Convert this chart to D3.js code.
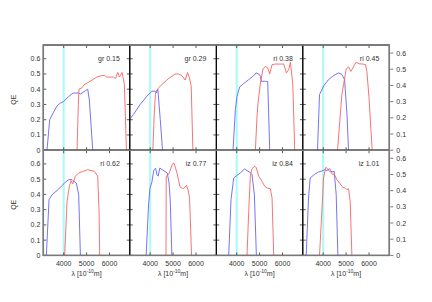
<!DOCTYPE html>
<html>
<head>
<meta charset="utf-8">
<script src="https://cdn.jsdelivr.net/npm/d3@7"></script>
<style>
body { margin: 0; background: #fff; }
text { font-family: "Liberation Sans", Arial, sans-serif; font-size: 7px; fill: #333; }
</style>
</head>
<body>
<div class="main"></div>
<script>
//panel labels, left to right, top to bottom
var panelLabels = ["gr 0.15", "gr 0.29", "ri 0.38", "ri 0.45", "ri 0.62", "iz 0.77", "iz 0.84", "iz 1.01"];
var xTicks = [4000, 5000, 6000];
var yTicks = [0, 0.1, 0.2, 0.3, 0.4, 0.5, 0.6];
var markerWavelength = 4000;

//[wavelength (1e-10 m), QE]
var blueCurves = [
	[[3272,0],[3389,0.20],[3560,0.25],[3709,0.29],[3854,0.31],[4000,0.32],[4200,0.35],[4408,0.375],[4655,0.375],[4728,0.368],[4946,0.39],[5048,0.40],[5120,0.33],[5267,0]],
	[[3100,0.2],[3126,0.206],[3272,0.235],[3563,0.30],[3854,0.354],[4073,0.387],[4218,0.387],[4262,0.376],[4335,0.398],[4440,0.2],[4539,0]],
	[[3840,0],[3942,0.267],[4015,0.354],[4131,0.415],[4306,0.437],[4524,0.463],[4743,0.489],[4844,0.507],[4961,0.50],[5034,0.485],[5077,0.452],[5252,0.452],[5354,0.45],[5441,0]],
	[[3752,0],[3840,0.365],[4015,0.42],[4233,0.463],[4451,0.489],[4670,0.507],[4815,0.496],[4932,0.463],[5034,0.246],[5107,0]],
	[[3243,0],[3360,0.365],[3490,0.398],[3782,0.435],[4073,0.481],[4218,0.497],[4364,0.497],[4408,0.49],[4553,0.475],[4655,0.398],[4728,0]],
	[[3825,0],[3927,0.33],[3990,0.44],[4073,0.48],[4158,0.56],[4233,0.572],[4300,0.53],[4349,0.52],[4420,0.573],[4525,0.562],[4650,0.55],[4743,0.54],[4820,0.48],[4874,0.365],[4946,0]],
	[[3651,0],[3752,0.365],[3869,0.508],[4015,0.525],[4160,0.541],[4349,0.567],[4451,0.556],[4568,0.547],[4670,0.53],[4772,0.398],[4859,0]],
	[[3258,0],[3360,0.376],[3432,0.508],[3607,0.53],[3796,0.547],[3985,0.556],[4087,0.563],[4160,0.556],[4276,0.569],[4378,0.547],[4480,0.552],[4568,0.398],[4641,0]]
];
var redCurves = [
	[[4582,0],[4640,0.3],[4670,0.40],[4800,0.41],[4900,0.43],[5020,0.44],[5237,0.46],[5450,0.48],[5674,0.49],[5790,0.49],[5864,0.48],[6184,0.48],[6257,0.47],[6359,0.51],[6432,0.48],[6548,0.51],[6650,0.43],[6737,0]],
	[[4116,0],[4180,0.25],[4233,0.38],[4364,0.41],[4582,0.44],[4800,0.47],[5092,0.50],[5237,0.50],[5383,0.49],[5529,0.46],[5631,0.51],[5703,0.48],[5790,0.42],[5864,0]],
	[[4815,0],[4888,0.224],[4932,0.31],[5034,0.44],[5150,0.533],[5252,0.55],[5354,0.539],[5441,0.50],[5543,0.561],[5689,0.565],[5907,0.565],[6053,0.565],[6169,0.507],[6271,0.528],[6344,0.578],[6446,0.441],[6533,0]],
	[[4626,0],[4742,0.224],[4815,0.365],[4888,0.43],[5005,0.533],[5107,0.546],[5208,0.517],[5296,0.539],[5427,0.576],[5587,0.567],[5733,0.565],[5849,0.561],[5907,0.517],[5995,0.354],[6082,0.137],[6140,0]],
	[[4044,0],[4146,0.354],[4247,0.453],[4320,0.49],[4393,0.468],[4510,0.519],[4655,0.541],[4874,0.552],[5048,0.563],[5194,0.556],[5340,0.552],[5485,0.519],[5543,0.288],[5572,0]],
	[[4690,0],[4700,0.519],[4801,0.53],[4975,0.6],[5040,0.606],[5170,0.54],[5300,0.45],[5400,0.44],[5470,0.44],[5580,0.46],[5650,0.43],[5718,0.38],[5805,0]],
	[[4451,0],[4524,0.288],[4597,0.519],[4670,0.569],[4786,0.585],[4859,0.574],[4961,0.519],[5107,0.486],[5223,0.453],[5325,0.442],[5470,0.437],[5543,0.376],[5616,0]],
	[[3840,0],[3942,0.288],[4015,0.508],[4116,0.578],[4189,0.569],[4262,0.552],[4335,0.547],[4408,0.53],[4480,0.534],[4597,0.497],[4743,0.468],[4859,0.446],[4961,0.442],[5034,0.431],[5107,0.437],[5179,0.354],[5252,0]]
];

//Canvas config
var margin = {top: 45, left: 43.3};
var panelW = 86.5, panelH = 105.2;
var nCols = 4, nRows = 2;
var tickLen = 3;

var xScale = d3.scaleLinear().domain([3110, 6885]).range([0, panelW]);
var yScale = d3.scaleLinear().domain([0, 0.69]).range([panelH, 0]);
var y2Scale = d3.scaleLinear().domain([0, 0.65]).range([panelH, 0]);

var line = d3.line()
	.x(function(d) { return xScale(d[0]); })
	.y(function(d) { return yScale(d[1]); });

var svg = d3.select(".main")
	.append("svg")
	.attr("width", 432)
	.attr("height", 302);

svg.append("defs")
	.append("clipPath")
	.attr("id", "panelClip")
	.append("rect")
	.attr("width", panelW)
	.attr("height", panelH);

for (var i = 0; i < panelLabels.length; i++) {
	var col = i % nCols, row = Math.floor(i / nCols);
	var g = svg.append("g")
		.attr("transform", "translate(" + (margin.left + col * panelW) + "," + (margin.top + row * panelH) + ")");

	//cyan marker
	g.append("line")
		.attr("x1", xScale(markerWavelength)).attr("x2", xScale(markerWavelength))
		.attr("y1", 0).attr("y2", panelH)
		.style("stroke", "#a8fafa")
		.style("stroke-width", 2);

	var curves = g.append("g").attr("clip-path", "url(#panelClip)");
	curves.append("path")
		.attr("d", line(blueCurves[i]))
		.style("fill", "none")
		.style("stroke", "#6464f5")
		.style("stroke-width", 0.9);
	curves.append("path")
		.attr("d", line(redCurves[i]))
		.style("fill", "none")
		.style("stroke", "#f56464")
		.style("stroke-width", 0.9);

	//inward x ticks, top and bottom
	xTicks.forEach(function(t) {
		g.append("line").attr("x1", xScale(t)).attr("x2", xScale(t)).attr("y1", panelH).attr("y2", panelH - tickLen)
			.style("stroke", "#333").style("stroke-width", 0.8);
		g.append("line").attr("x1", xScale(t)).attr("x2", xScale(t)).attr("y1", 0).attr("y2", tickLen)
			.style("stroke", "#333").style("stroke-width", 0.8);
	});
	//inward y ticks, left, and right except last column
	yTicks.forEach(function(t) {
		g.append("line").attr("x1", 0).attr("x2", tickLen).attr("y1", yScale(t)).attr("y2", yScale(t))
			.style("stroke", "#333").style("stroke-width", 0.8);
		if (col < nCols - 1) {
			g.append("line").attr("x1", panelW - tickLen).attr("x2", panelW).attr("y1", yScale(t)).attr("y2", yScale(t))
				.style("stroke", "#333").style("stroke-width", 0.8);
		}
	});

	if (col == 0) {
		yTicks.forEach(function(t) {
			g.append("text")
				.attr("x", -3)
				.attr("y", yScale(t) + 2.5)
				.attr("text-anchor", "end")
				.text(t == 0 ? "0" : t.toFixed(1));
		});
		g.append("text")
			.attr("transform", "translate(" + (-27) + "," + (panelH / 2 + 2) + ") rotate(-90)")
			.attr("text-anchor", "middle")
			.text("QE");
	}
	if (col == nCols - 1) {
		yTicks.forEach(function(t) {
			g.append("line").attr("x1", panelW + 1).attr("x2", panelW + 1 + tickLen).attr("y1", y2Scale(t)).attr("y2", y2Scale(t))
				.style("stroke", "#555").style("stroke-width", 0.8);
			g.append("text")
				.attr("x", panelW + 7)
				.attr("y", y2Scale(t) + 2.5)
				.text(t == 0 ? "0" : t.toFixed(1));
		});
	}
	if (row == nRows - 1) {
		xTicks.forEach(function(t) {
			g.append("text")
				.attr("x", xScale(t))
				.attr("y", panelH + 10.5)
				.attr("text-anchor", "middle")
				.text(t);
		});
		var xl = g.append("text")
			.attr("x", panelW / 2)
			.attr("y", panelH + 21)
			.attr("text-anchor", "middle");
		xl.append("tspan").text("\u03bb [10");
		xl.append("tspan").attr("dy", -3).style("font-size", "5px").text("-10");
		xl.append("tspan").attr("dy", 3).text("m]");
	}

	//panel label
	g.append("text")
		.attr("x", panelW - 10)
		.attr("y", yScale(0.6) + 2.5)
		.attr("text-anchor", "end")
		.text(panelLabels[i]);

	//black divider frame
	g.append("rect")
		.attr("width", panelW)
		.attr("height", panelH)
		.style("fill", "none")
		.style("stroke", "#000")
		.style("stroke-width", 1);
}

//gray outer border and row divider
svg.append("rect")
	.attr("x", margin.left).attr("y", margin.top)
	.attr("width", panelW * nCols).attr("height", panelH * nRows)
	.style("fill", "none")
	.style("stroke", "#7a7a7a")
	.style("stroke-width", 1.5);
svg.append("line")
	.attr("x1", margin.left).attr("x2", margin.left + panelW * nCols)
	.attr("y1", margin.top + panelH).attr("y2", margin.top + panelH)
	.style("stroke", "#7a7a7a")
	.style("stroke-width", 1.5);
</script>
</body>
</html>
